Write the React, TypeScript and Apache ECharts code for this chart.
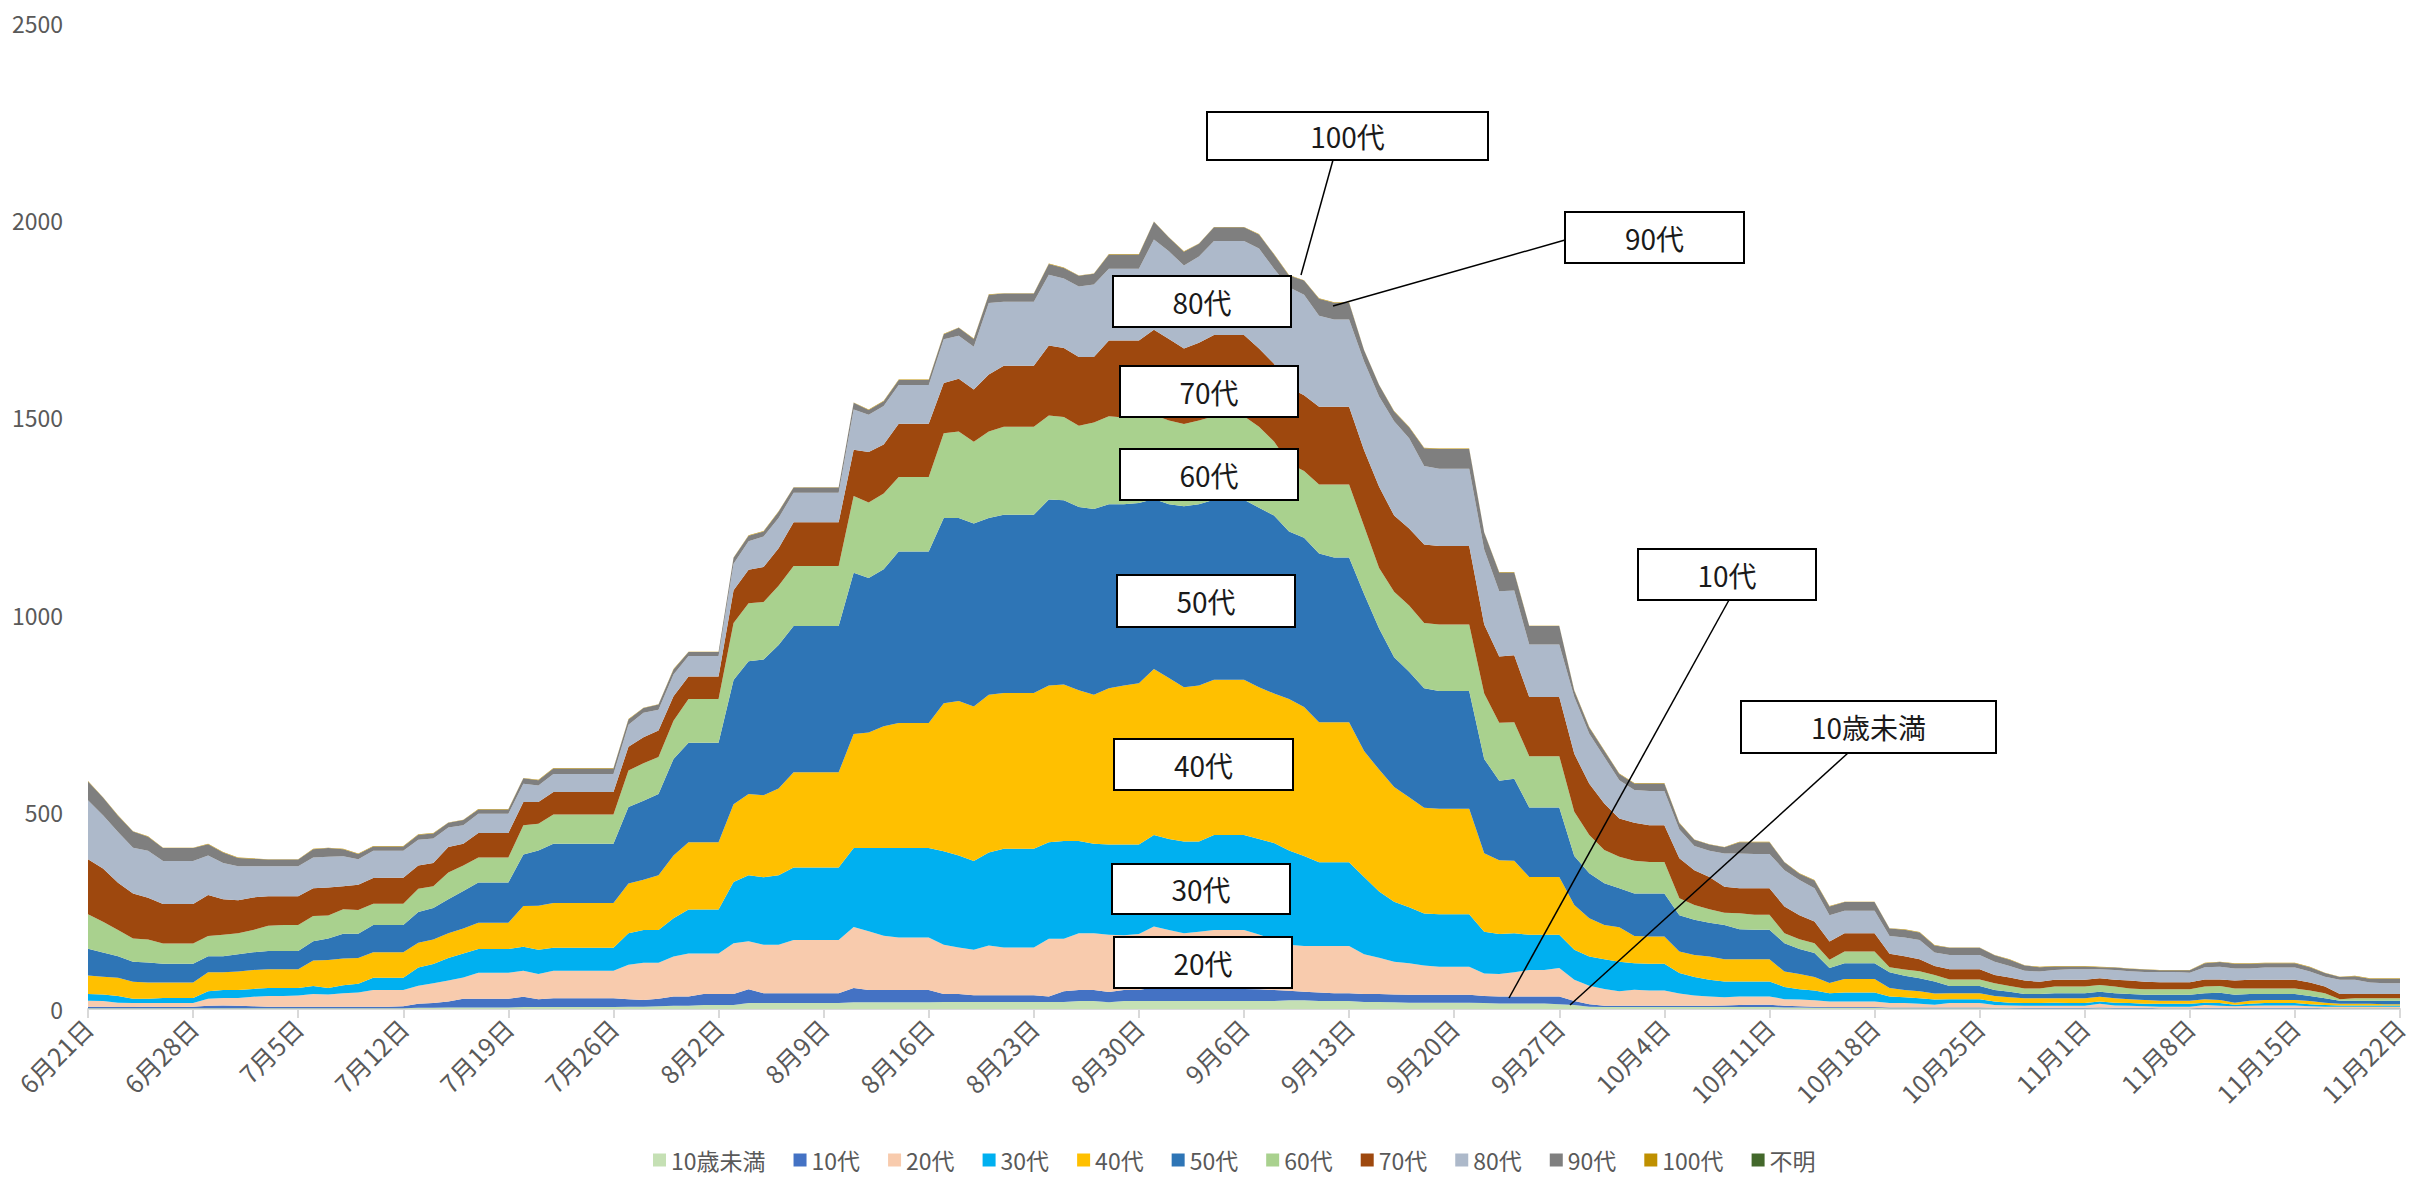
import React, { useEffect, useRef } from "react";
import * as echarts from "echarts";

const FONT = '"Noto Sans CJK JP", "Noto Sans", sans-serif';

// Day axis: 6月21日 .. 11月22日 (155 days)
const firstMonth = 6;
const firstDay = 21;
const dayCount = 155;
const monthLengths: Record<number, number> = { 6: 30, 7: 31, 8: 31, 9: 30, 10: 31, 11: 30 };

function buildDates(): string[] {
  const out: string[] = [];
  let m = firstMonth;
  let d = firstDay;
  for (let i = 0; i < dayCount; i++) {
    out.push(`${m}月${d}日`);
    d++;
    if (d > monthLengths[m]) {
      d = 1;
      m++;
    }
  }
  return out;
}
const dates = buildDates();

const seriesNames = ["10歳未満", "10代", "20代", "30代", "40代", "50代", "60代", "70代", "80代", "90代", "100代", "不明"];
const seriesColors = ["#C5E0B4", "#4472C4", "#F8CBAD", "#00B0F0", "#FFC000", "#2E75B6", "#A9D18E", "#9E480E", "#ADB9CA", "#7F7F7F", "#BF9000", "#43682B"];

const under10 = [
  2,2,2,2,2,2,2,2,2,2, 2,2,2,2,2,2,2,2,2,2, 2,2,3,3,4,4,4,4,4,5,
  5,5,5,5,5,5,6,6,7,8, 8,10,10,10,15,15,15,15,15,15, 15,17,17,17,17,17,17,18,18,18,
  18,18,18,18,18,18,20,20,17,20, 20,20,20,20,20,20,20,20,20,20, 22,22,20,20,20,18,18,17,16,16,
  16,16,16,15,14,14,14,14,12,10, 6,5,5,5,5,5,5,5,5,5, 5,5,5,4,4,3,3,3,3,3,
  2,2,2,2,2,2,2,2,2,1, 1,1,1,1,2,1,1,1,1,1, 1,1,1,1,1,1,1,1,1,1, 1,1,1,1,1,
];
const age10s = [
  4,4,3,3,4,3,3,4,6,7, 6,5,4,4,4,4,4,4,4,4, 4,5,10,12,15,22,22,22,22,26,
  20,22,22,22,22,22,19,17,19,24, 24,28,28,28,35,25,25,25,25,25, 25,36,31,31,31,31,31,20,20,17,
  17,17,17,17,14,27,28,28,26,28, 28,35,31,31,31,31,31,31,30,28, 24,22,22,20,20,20,20,20,20,20,
  20,20,20,18,18,18,18,18,20,10, 6,3,3,3,3,3,3,3,3,4, 5,6,6,4,3,3,2,2,2,2,
  2,2,2,2,2,2,2,1,1,2, 2,2,2,2,2,2,2,2,1,1, 1,2,2,2,2,2,2,2,2,1, 1,1,1,1,1,
];
const age20s = [
  15,14,11,10,9,10,10,9,18,19, 20,24,27,27,28,32,31,34,36,42, 42,41,46,50,53,54,66,66,66,66,
  64,70,70,70,70,70,87,94,91,101, 109,103,103,129,122,123,123,135,135,135, 135,155,149,138,133,133,133,125,118,115,
  126,121,121,121,146,133,144,144,145,139, 142,154,149,141,145,149,149,149,139,128, 117,116,118,120,120,101,92,83,80,74,
  71,71,71,57,57,61,67,67,72,54, 47,43,37,41,39,39,31,26,24,21, 22,21,21,17,17,16,14,14,14,14,
  11,11,9,7,11,11,11,7,6,5, 5,5,5,5,9,6,5,4,4,4, 4,7,5,4,5,6,6,6,4,4, 4,4,4,4,4,
];
const age30s = [
  17,17,17,11,11,13,13,13,19,20, 20,20,20,20,19,20,16,20,22,31, 31,31,46,49,57,61,60,60,60,61,
  61,58,58,58,58,58,80,83,83,97, 111,111,111,155,167,171,176,184,184,184, 184,200,211,222,227,227,227,237,233,225,
  236,250,250,250,245,248,234,227,229,230, 227,232,231,233,229,241,241,241,242,245, 239,228,212,212,212,196,168,152,142,132,
  133,133,133,106,101,99,89,89,84,76, 74,75,75,67,68,68,52,47,42,40, 38,38,38,31,26,25,21,23,23,23,
  17,15,14,13,10,10,10,9,7,7, 7,8,7,7,6,7,7,6,7,7, 7,6,7,4,5,6,6,6,5,4, 3,3,3,3,3,
];
const age40s = [
  47,45,46,43,41,39,39,39,48,45, 47,48,48,48,48,65,71,68,65,65, 65,65,63,62,63,63,67,67,67,103,
  112,114,114,114,114,114,126,128,139,159, 171,171,171,197,206,208,220,241,241,241, 241,289,293,309,317,317,317,375,392,392,
  400,395,395,395,397,397,382,378,396,403, 409,421,408,391,395,394,394,394,385,379, 384,378,355,355,355,319,309,291,279,268,
  268,268,268,199,187,184,147,147,147,114, 97,87,87,69,69,69,55,56,59,56, 56,56,56,39,39,34,26,34,34,34,
  21,18,18,15,15,15,15,14,14,12, 12,11,12,12,12,11,10,10,8,8, 8,9,8,5,8,8,8,8,8,6, 4,4,4,3,3,
];
const age50s = [
  68,61,55,51,51,48,48,48,41,41, 44,45,46,46,46,49,55,63,62,69, 69,69,78,80,86,95,102,102,102,131,
  140,150,150,150,150,150,194,200,206,245, 252,252,252,315,337,344,364,371,371,371, 371,409,392,398,435,435,435,470,464,464,
  448,452,452,452,472,467,465,471,467,460, 457,431,441,459,460,456,456,456,455,451, 425,429,428,418,418,398,358,329,318,303,
  298,298,298,239,202,208,176,176,176,124, 114,106,99,108,109,109,92,89,86,87, 76,75,75,72,63,61,38,40,40,40,
  40,36,33,31,18,18,18,15,14,11, 11,13,13,13,13,13,13,13,15,15, 15,15,18,20,17,15,15,15,13,11, 8,8,8,9,9,
];
const age60s = [
  87,78,66,59,58,51,51,51,51,54, 53,56,64,66,66,64,58,62,60,54, 54,54,59,55,68,65,63,63,63,74,
  68,74,74,74,74,74,93,95,94,97, 111,111,111,145,147,146,150,152,152,152, 152,195,191,192,189,189,189,215,219,207,
  219,223,223,223,213,211,206,219,223,220, 220,213,212,208,212,212,212,212,205,188, 173,169,175,185,185,172,153,166,168,166,
  169,169,169,166,147,143,130,130,130,112, 97,84,80,83,80,80,43,38,34,31, 41,38,38,25,25,25,21,30,30,30,
  13,16,18,16,17,17,17,17,14,14, 14,17,17,17,17,17,14,14,14,14, 14,17,17,16,14,14,14,14,14,13, 4,6,6,6,6,
];
const age70s = [
  140,135,120,114,106,100,100,100,104,90, 84,83,75,73,73,70,71,58,64,65, 66,66,59,59,65,55,62,62,62,59,
  55,57,57,57,57,57,60,66,67,62, 57,57,57,83,85,89,95,111,111,111, 111,117,128,124,135,135,135,127,134,133,
  145,155,155,155,177,175,174,166,192,195, 192,216,207,192,197,206,206,206,199,197, 192,192,197,197,197,193,206,193,195,199,
  199,199,199,175,168,170,150,150,150,147, 130,118,97,96,93,93,101,88,82,66, 63,67,67,68,61,55,46,46,46,46,
  34,34,30,23,26,26,26,21,22,20, 17,17,17,17,17,17,20,19,18,18, 18,18,17,20,22,22,22,22,20,17, 13,11,11,11,11,
];
const age80s = [
  149,135,129,116,119,109,109,109,100,92, 86,79,76,76,76,78,78,76,65,69, 68,68,65,62,49,47,49,49,49,46,
  42,46,46,46,46,46,56,62,53,55, 52,52,52,67,72,77,77,75,75,75, 75,102,95,98,98,98,98,111,109,108,
  181,162,162,162,180,176,179,184,182,182, 182,229,222,210,219,238,238,238,253,241, 254,255,231,221,221,225,229,239,229,199,
  196,196,196,190,165,164,133,133,133,144, 127,118,97,83,87,87,73,61,66,84, 88,87,87,92,89,84,67,57,57,57,
  45,47,49,34,36,36,36,34,29,25, 26,25,27,27,23,25,24,25,26,26, 24,31,32,31,29,31,31,31,28,25, 36,36,29,27,27,
];
const age90s = [
  48,45,41,41,36,33,33,33,29,27, 21,19,17,17,17,21,22,18,13,11, 11,11,13,13,12,13,11,11,11,14,
  13,14,14,14,14,14,13,12,13,13, 10,10,10,15,14,13,16,13,13,13, 13,17,12,12,13,13,13,13,20,20,
  21,21,21,21,27,27,27,27,36,36, 36,45,35,35,32,35,35,35,36,36, 30,36,43,43,43,28,29,25,28,45,
  50,50,50,43,48,46,47,47,47,16, 16,16,16,17,19,19,16,16,16,16, 29,30,30,20,16,20,22,22,22,22,
  19,20,19,18,18,18,18,16,16,13, 11,9,7,7,5,6,6,6,4,4, 6,10,12,12,12,11,11,11,11,9, 7,9,10,12,12,
];
const age100s = [
  1,1,1,1,1,1,1,1,1,1, 1,1,1,1,1,1,1,1,1,1, 1,1,1,1,1,1,1,1,1,1,
  1,1,1,1,1,1,1,1,1,1, 1,1,1,1,1,1,1,1,1,1, 1,1,1,1,1,1,1,1,1,1,
  1,1,1,1,1,1,1,1,1,1, 1,1,1,1,1,1,1,1,1,1, 1,1,1,1,1,1,1,1,1,1,
  1,1,1,1,1,1,1,1,1,1, 1,1,1,1,1,1,1,1,1,1, 1,1,1,1,1,1,1,1,1,1,
  1,1,1,1,1,1,1,1,1,1, 1,1,1,1,1,1,1,1,1,1, 1,1,1,1,1,1,1,1,1,1, 1,1,1,1,1,
];
const unknownAge = [
  0,0,0,0,0,0,0,0,0,0, 0,0,0,0,0,0,0,0,0,0, 0,0,0,0,0,0,0,0,0,0,
  0,0,0,0,0,0,0,0,0,0, 0,0,0,0,0,0,0,0,0,0, 0,0,0,0,0,0,0,0,0,0,
  0,0,0,0,0,0,0,0,0,0, 0,0,0,0,0,0,0,0,0,0, 0,0,0,0,0,0,0,0,0,0,
  0,0,0,0,0,0,0,0,0,0, 0,0,0,0,0,0,0,0,0,0, 0,0,0,0,0,0,0,0,0,0,
  0,0,0,0,0,0,0,0,0,0, 0,0,0,0,0,0,0,0,0,0, 0,0,0,0,0,0,0,0,0,0, 0,0,0,0,0,
];
const seriesValues = [under10, age10s, age20s, age30s, age40s, age50s, age60s, age70s, age80s, age90s, age100s, unknownAge];

const yTicks = { min: 0, max: 2500, interval: 500 };

// Annotation boxes (label text, box rectangle in px)
const boxLabels = [
  { text: "100代", x: 1207, y: 112, w: 281, h: 48 },
  { text: "90代", x: 1565, y: 212, w: 179, h: 51 },
  { text: "80代", x: 1113, y: 276, w: 178, h: 51 },
  { text: "70代", x: 1120, y: 366, w: 178, h: 51 },
  { text: "60代", x: 1120, y: 449, w: 178, h: 51 },
  { text: "50代", x: 1117, y: 575, w: 178, h: 52 },
  { text: "40代", x: 1114, y: 739, w: 179, h: 51 },
  { text: "30代", x: 1112, y: 864, w: 178, h: 50 },
  { text: "20代", x: 1114, y: 937, w: 178, h: 51 },
  { text: "10代", x: 1638, y: 549, w: 178, h: 51 },
  { text: "10歳未満", x: 1741, y: 701, w: 255, h: 52 },
];
const leaderLines = [
  { x1: 1333, y1: 160, x2: 1301, y2: 275 },
  { x1: 1565, y1: 240, x2: 1333, y2: 306 },
  { x1: 1729, y1: 600, x2: 1509, y2: 998 },
  { x1: 1848, y1: 753, x2: 1570, y2: 1005 },
];

function buildOption(): any {
  const graphics: any[] = [];
  leaderLines.forEach((l) => {
    graphics.push({
      type: "line",
      z: 100,
      shape: { x1: l.x1, y1: l.y1, x2: l.x2, y2: l.y2 },
      style: { stroke: "#000", lineWidth: 1.5 },
    });
  });
  boxLabels.forEach((b) => {
    graphics.push({
      type: "rect",
      z: 100,
      shape: { x: b.x, y: b.y, width: b.w, height: b.h },
      style: { fill: "#ffffff", stroke: "#000000", lineWidth: 2 },
    });
    graphics.push({
      type: "text",
      z: 101,
      x: b.x + b.w / 2,
      y: b.y + b.h / 2,
      style: {
        text: b.text,
        fill: "#1a1a1a",
        font: `28px ${FONT}`,
        textAlign: "center",
        textVerticalAlign: "middle",
      },
    });
  });

  return {
    animation: false,
    backgroundColor: "#ffffff",
    textStyle: { fontFamily: FONT },
    grid: { left: 88, right: 13, top: 23, bottom: 168, containLabel: false },
    legend: {
      data: seriesNames,
      left: 653,
      top: 1148,
      padding: 0,
      icon: "rect",
      itemWidth: 13,
      itemHeight: 13,
      itemGap: 28,
      textStyle: { fontSize: 23, lineHeight: 24, color: "#595959", fontFamily: FONT },
    },
    xAxis: {
      type: "category",
      data: dates,
      boundaryGap: false,
      axisLine: { lineStyle: { color: "#d9d9d9", width: 2 } },
      axisTick: { show: true, interval: 6, length: 9, lineStyle: { color: "#d9d9d9", width: 2 } },
      axisLabel: { interval: 6, rotate: 45, fontSize: 25, color: "#595959", margin: 14, fontFamily: FONT },
      splitLine: { show: false },
    },
    yAxis: {
      type: "value",
      min: yTicks.min,
      max: yTicks.max,
      interval: yTicks.interval,
      axisLine: { show: false },
      axisTick: { show: false },
      splitLine: { show: false },
      axisLabel: {
        fontSize: 23,
        color: "#595959",
        margin: 25,
        fontFamily: FONT,
        formatter: (v: number) => String(v),
      },
    },
    series: seriesNames.map((name, i) => ({
      name,
      type: "line",
      stack: "total",
      data: seriesValues[i],
      symbol: "none",
      showSymbol: false,
      lineStyle: { width: 0, color: seriesColors[i] },
      itemStyle: { color: seriesColors[i] },
      areaStyle: { color: seriesColors[i], opacity: 1 },
      emphasis: { disabled: true },
      z: 2,
    })),
    graphic: graphics,
  };
}

export default function App() {
  const ref = useRef<HTMLDivElement | null>(null);
  useEffect(() => {
    if (!ref.current) return;
    const chart = echarts.init(ref.current, undefined, { renderer: "svg" });
    chart.setOption(buildOption());
    return () => {
      chart.dispose();
    };
  }, []);
  return (
    <div
      ref={ref}
      style={{ position: "absolute", left: 0, top: 0, width: 2413, height: 1177, background: "#fff" }}
    />
  );
}
